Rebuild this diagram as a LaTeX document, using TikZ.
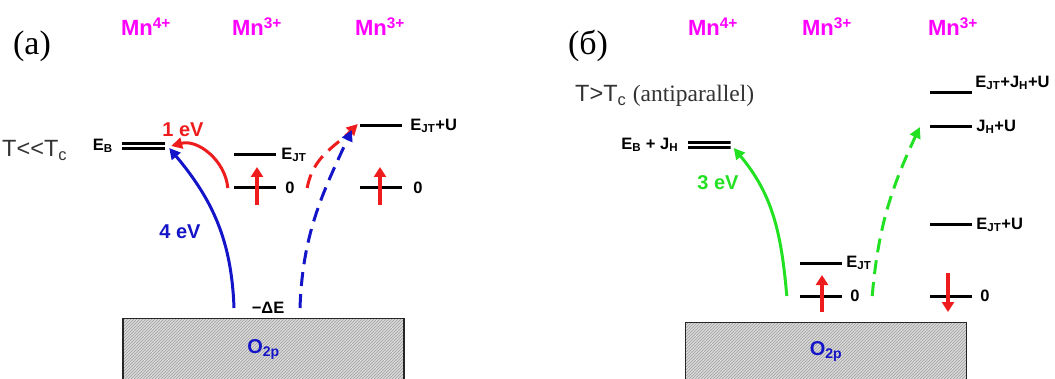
\documentclass[tikz,border=0pt]{standalone}
\usepackage{fontspec}
\setmainfont{Liberation Serif}
\setsansfont{Liberation Sans}
\usetikzlibrary{arrows.meta, positioning, patterns}
\definecolor{ionmag}{HTML}{FF00FF}
\definecolor{exblue}{HTML}{1414C8}
\definecolor{exred}{HTML}{EE1C1C}
\definecolor{exgreen}{HTML}{22E022}
\definecolor{tgray}{HTML}{333333}

\begin{document}
\begin{tikzpicture}[x=1pt, y=1pt,
  lev/.style={fill=black, minimum width=42pt, minimum height=3pt, inner sep=0pt},
  dlev/.style={minimum width=43pt, minimum height=7.5pt, inner sep=0pt,
    path picture={\fill (path picture bounding box.north west) rectangle ([yshift=-3pt]path picture bounding box.north east);
      \fill ([yshift=3pt]path picture bounding box.south west) rectangle (path picture bounding box.south east);}},
  ion/.style={font=\fontsize{22}{24}\selectfont\sffamily\bfseries, text=ionmag, anchor=base},
  tag/.style={font=\fontsize{34}{36}\selectfont, anchor=base},
  temp/.style={font=\fontsize{23.5}{25}\selectfont, text=tgray, anchor=base west, inner sep=0pt},
  elab/.style={font=\fontsize{16.5}{18}\selectfont\sffamily\bfseries, inner sep=1pt},
  evlab/.style={font=\fontsize{20}{22}\selectfont\sffamily\bfseries, inner sep=1pt},
  band/.style={draw=black!85, line width=1.2pt, preaction={fill=gray!30},
    pattern=north east lines, pattern color=gray!75, minimum width=281pt, anchor=north,
    font=\fontsize{20}{22}\selectfont\sffamily\bfseries, text=exblue},
  exc/.style={-{Triangle[length=11pt, width=11pt]}, line width=3pt},
  exd/.style={exc, dash pattern=on 14pt off 8pt},
  spin/.style={-{Triangle[length=10pt, width=12pt]}, line width=3.5pt, exred}]

  \useasboundingbox (0,0) rectangle (1055,378);

  % (a) T << Tc
  \node[tag] (tagA) at (32,323) {(a)};
  \node[ion] (mnA1) at (146,342) {Mn\textsuperscript{4+}};
  \node[ion] (mnA2) at (257,342) {Mn\textsuperscript{3+}};
  \node[ion] (mnA3) at (380,342) {Mn\textsuperscript{3+}};
  \node[temp] (tempA) at (2,221) {\sffamily T{<}{<}T\textsubscript{c}};

  \node[dlev] (ebA) at (143.5,232) {};
  \node[elab, left=8pt of ebA] (ebAl) {E\textsubscript{B}};
  \node[lev] (ejtA) at (255,223) {};
  \node[elab, right=4pt of ejtA] (ejtAl) {E\textsubscript{JT}};
  \node[lev] (zeroA) at (255,190) {};
  \node[elab, right=8pt of zeroA] (zeroAl) {0};
  \node[lev] (ejtuA) at (381,252) {};
  \node[elab, right=7pt of ejtuA] (ejtuAl) {E\textsubscript{JT}+U};
  \node[lev] (zeroAr) at (381,190) {};
  \node[elab, right=10pt of zeroAr] (zeroArl) {0};

  \node[band, minimum height=62pt] (bandA) at (263.5,60) {O\textsubscript{2p}};
  \node[elab] (deA) at (268,70) {−ΔE};

  \node[evlab, text=exred] (oneev) at (183,248) {1 eV};
  \node[evlab, text=exblue] (fourev) at (180,146) {4 eV};

  \draw[spin] ([shift={(2pt,-17pt)}]zeroA.center) -- ([shift={(2pt,21pt)}]zeroA.center);
  \draw[spin] ([shift={(-1pt,-17pt)}]zeroAr.center) -- ([shift={(-1pt,21pt)}]zeroAr.center);

  \draw[exc, exblue] ([shift={(-29.5pt,10pt)}]bandA.north) to[out=92, in=-50] ([shift={(4pt,-2pt)}]ebA.east);
  \draw[exc, exred] ([xshift=-6pt]zeroA.west) to[out=95, in=15] ([xshift=6pt]ebA.east);
  \draw[exd, exred] ([xshift=31pt]zeroA.east) to[out=80, in=-135] ([shift={(-2pt,2pt)}]ejtuA.west);
  \draw[exd, exblue] ([shift={(36.5pt,10pt)}]bandA.north) to[out=88, in=-115] ([shift={(-8pt,-4pt)}]ejtuA.west);

  % (b) T > Tc, antiparallel
  \node[tag] (tagB) at (588,323) {(б)};
  \node[ion] (mnB1) at (713,342) {Mn\textsuperscript{4+}};
  \node[ion] (mnB2) at (827,342) {Mn\textsuperscript{3+}};
  \node[ion] (mnB3) at (953,342) {Mn\textsuperscript{3+}};
  \node[temp] (tempB) at (575,276) {\sffamily T{>}T\textsubscript{c} \rmfamily(antiparallel)};

  \node[dlev] (ebB) at (709,233) {};
  \node[elab, left=8pt of ebB] (ebBl) {E\textsubscript{B} + J\textsubscript{H}};
  \node[lev] (ejtB) at (821,115) {};
  \node[elab, right=3pt of ejtB] (ejtBl) {E\textsubscript{JT}};
  \node[lev] (zeroB) at (821,82) {};
  \node[elab, right=7pt of zeroB] (zeroBl) {0};
  \node[lev] (ejhuB) at (951,285) {};
  \node[elab, right=2pt of ejhuB, yshift=10pt] (ejhuBl) {E\textsubscript{JT}+J\textsubscript{H}+U};
  \node[lev] (jhuB) at (951,251) {};
  \node[elab, right=3pt of jhuB] (jhuBl) {J\textsubscript{H}+U};
  \node[lev] (ejtuB) at (951,153) {};
  \node[elab, right=3pt of ejtuB] (ejtuBl) {E\textsubscript{JT}+U};
  \node[lev] (zeroBr) at (951,82) {};
  \node[elab, right=7pt of zeroBr] (zeroBrl) {0};

  \node[band, minimum height=58pt] (bandB) at (826,56) {O\textsubscript{2p}};

  \node[evlab, text=exgreen] (threeev) at (718,195) {3 eV};

  \draw[spin] ([shift={(1pt,-16pt)}]zeroB.center) -- ([shift={(1pt,21pt)}]zeroB.center);
  \draw[spin] ([shift={(-3pt,23pt)}]zeroBr.center) -- ([shift={(-3pt,-16pt)}]zeroBr.center);

  \draw[exc, exgreen] ([xshift=-13pt]zeroB.west) to[out=95, in=-50] ([shift={(3pt,-3pt)}]ebB.east);
  \draw[exd, exgreen] ([xshift=30pt]zeroB.east) to[out=85, in=-115] ([xshift=-10pt]jhuB.west);
\end{tikzpicture}
\end{document}
